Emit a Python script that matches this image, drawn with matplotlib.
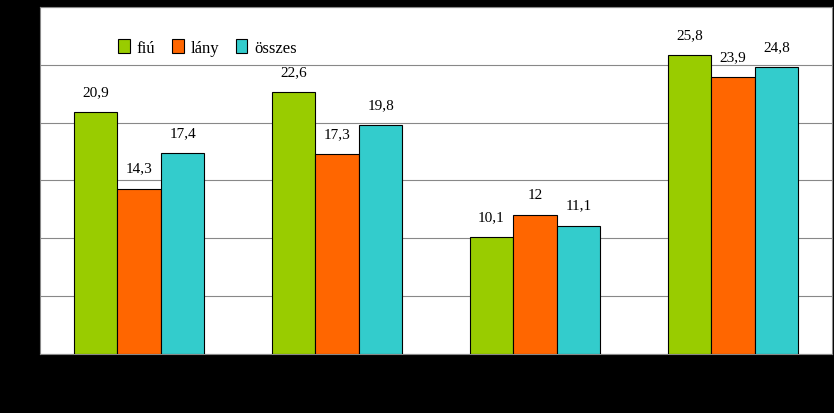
#!/usr/bin/env python3

import matplotlib.pyplot as plt
import numpy as np

groups = ['1', '2', '3', '4']
fiu    = [20.9, 22.6, 10.1, 25.8]
lany   = [14.3, 17.3, 12.0, 23.9]
osszes = [17.4, 19.8, 11.1, 24.8]

series = [('fiú', fiu, '#99CC00'),
          ('lány', lany, '#FF6600'),
          ('összes', osszes, '#33CCCC')]


def fmt(v):
    return ('%g' % v).replace('.', ',') if v != int(v) else '%d' % v


def main():
    plt.rcParams['font.family'] = 'Liberation Serif'
    fig = plt.figure(figsize=(8.34, 4.14), dpi=100, facecolor='black')
    ax = fig.add_axes([0.048, 0.1425, 0.9496, 0.8385], facecolor='white')

    x = np.arange(len(groups))
    w = 0.22
    for i, (name, vals, col) in enumerate(series):
        pos = x + (i - 1) * w
        ax.bar(pos, vals, w, color=col, edgecolor='black', linewidth=0.8,
               label=name, zorder=3)
        for p, v in zip(pos, vals):
            ax.text(p, v + 1.2, fmt(v), ha='center', va='bottom', fontsize=11)

    ax.set_xlim(-0.5, 3.5)
    ax.set_ylim(0, 30)
    ax.set_yticks(range(0, 31, 5))
    ax.yaxis.grid(True, color='#888888', linewidth=0.8, zorder=0)
    ax.set_xticks(x)
    ax.set_xticklabels(groups)
    ax.tick_params(colors='black', labelcolor='black')
    for s in ax.spines.values():
        s.set_color('#888888')

    ax.legend(loc='upper left', bbox_to_anchor=(0.08, 0.95), ncol=3,
              frameon=False, fontsize=12, handlelength=0.7,
              handleheight=0.9, columnspacing=1.0, handletextpad=0.4)

    fig.savefig('out.png', dpi=100, facecolor='black')


if __name__ == '__main__':
    main()
